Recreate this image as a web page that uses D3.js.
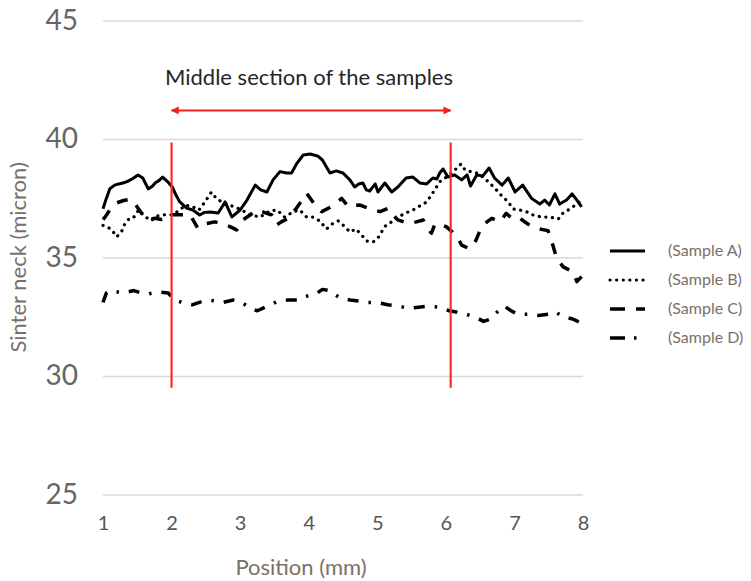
<!DOCTYPE html>
<html>
<head>
<meta charset="utf-8">
<script src="https://cdn.jsdelivr.net/npm/d3@7"></script>
<style>
  html, body { margin: 0; padding: 0; background: #fff; }
  svg { display: block; font-family: Lato, "Open Sans", sans-serif; }
</style>
</head>
<body>
<svg id="chart" width="751" height="581"></svg>
<script>
// ---------- data ----------
const xTicks = [1, 2, 3, 4, 5, 6, 7, 8];
const yTicks = [25, 30, 35, 40, 45];
const seriesNames = ["(Sample A)", "(Sample B)", "(Sample C)", "(Sample D)"];

const sampleA = [
  [1.00,37.05],[1.05,37.5],[1.10,37.9],[1.17,38.05],[1.23,38.1],[1.29,38.14],[1.35,38.2],[1.42,38.3],
  [1.51,38.48],[1.58,38.35],[1.66,37.89],[1.72,38.0],[1.76,38.14],[1.82,38.25],[1.87,38.39],[1.94,38.2],
  [2.01,37.97],[2.07,37.6],[2.12,37.34],[2.22,37.08],[2.31,37.0],[2.41,36.79],[2.48,36.9],[2.56,36.92],
  [2.68,36.87],[2.78,37.34],[2.88,36.71],[3.00,37.0],[3.10,37.42],[3.22,38.05],[3.30,37.85],[3.39,37.76],
  [3.48,38.27],[3.58,38.62],[3.68,38.56],[3.75,38.56],[3.83,38.98],[3.92,39.32],[4.02,39.36],[4.13,39.28],
  [4.20,39.11],[4.31,38.56],[4.40,38.65],[4.50,38.56],[4.60,38.27],[4.67,37.97],[4.73,38.1],[4.79,38.14],
  [4.84,37.85],[4.89,37.80],[4.97,38.10],[5.01,37.76],[5.06,37.95],[5.11,38.14],[5.21,37.76],[5.30,37.97],
  [5.42,38.35],[5.52,38.39],[5.62,38.14],[5.72,38.10],[5.81,38.35],[5.87,38.31],[5.91,38.56],[5.96,38.73],
  [6.03,38.39],[6.13,38.48],[6.23,38.27],[6.31,38.48],[6.36,38.01],[6.45,38.48],[6.54,38.44],[6.63,38.77],
  [6.71,38.35],[6.82,38.05],[6.91,38.35],[7.01,37.76],[7.12,38.05],[7.25,37.49],[7.37,37.25],[7.44,37.42],
  [7.51,37.21],[7.59,37.68],[7.66,37.25],[7.76,37.42],[7.84,37.68],[7.91,37.42],[7.98,37.13]
];
const sampleB = [
  [1.00,36.35],[1.05,36.3],[1.12,36.19],[1.20,35.87],[1.27,36.08],[1.31,36.37],[1.39,36.67],[1.45,36.7],
  [1.52,37.0],[1.60,36.75],[1.70,36.55],[1.80,36.75],[1.90,36.8],[2.00,36.8],[2.10,36.95],[2.20,37.2],
  [2.30,37.15],[2.40,37.0],[2.50,37.4],[2.58,37.75],[2.65,37.5],[2.75,37.3],[2.85,37.2],[2.95,37.1],
  [3.05,36.95],[3.15,36.8],[3.22,36.75],[3.29,36.70],[3.43,36.96],[3.54,37.0],[3.65,36.70],[3.77,36.92],
  [3.87,37.0],[3.97,36.70],[4.06,36.70],[4.16,36.54],[4.26,36.20],[4.34,36.41],[4.43,36.54],[4.53,36.29],
  [4.60,36.07],[4.69,36.20],[4.85,35.69],[4.94,35.65],[5.01,35.82],[5.08,36.16],[5.13,36.37],[5.21,36.50],
  [5.30,36.70],[5.42,36.88],[5.52,37.0],[5.62,37.17],[5.72,37.34],[5.77,37.55],[5.84,37.86],[5.91,38.19],
  [5.99,38.35],[6.10,38.60],[6.22,38.94],[6.28,38.69],[6.38,38.60],[6.45,38.56],[6.54,38.39],[6.64,38.14],
  [6.74,37.84],[6.83,37.55],[6.91,37.34],[6.98,37.04],[7.08,37.0],[7.18,36.92],[7.27,36.79],[7.40,36.70],
  [7.52,36.70],[7.64,36.62],[7.71,36.88],[7.81,37.04],[7.91,37.26],[7.98,37.42]
];
const sampleC = [
  [1.00,36.6],[1.03,36.7],[1.10,37.0],[1.20,37.3],[1.30,37.4],[1.40,37.45],[1.48,37.2],[1.56,36.87],
  [1.66,36.6],[1.76,36.65],[1.85,36.6],[1.93,36.65],[2.00,36.8],[2.10,36.8],[2.20,36.8],[2.27,36.8],
  [2.33,36.5],[2.38,36.24],[2.45,36.4],[2.55,36.45],[2.63,36.5],[2.75,36.4],[2.85,36.3],[2.95,36.16],
  [3.04,36.58],[3.15,36.8],[3.25,37.0],[3.35,36.9],[3.46,36.79],[3.53,36.37],[3.60,36.5],[3.70,36.65],
  [3.82,37.07],[3.90,37.4],[3.97,37.7],[4.04,37.42],[4.12,37.1],[4.19,36.93],[4.33,37.14],[4.40,37.3],
  [4.48,37.49],[4.58,37.14],[4.66,37.2],[4.75,37.21],[4.87,37.07],[4.95,37.0],[5.04,36.93],[5.16,37.07],
  [5.23,36.8],[5.30,36.58],[5.45,36.44],[5.50,36.45],[5.57,36.5],[5.67,36.58],[5.72,36.3],[5.79,36.02],
  [5.84,36.4],[5.92,36.4],[6.01,36.29],[6.16,35.9],[6.23,35.52],[6.33,35.38],[6.40,35.5],[6.45,35.8],
  [6.52,36.29],[6.60,36.5],[6.67,36.65],[6.79,36.5],[6.88,36.86],[6.96,36.65],[7.02,36.7],[7.08,36.65],
  [7.18,36.44],[7.25,36.3],[7.32,36.23],[7.49,36.13],[7.56,35.52],[7.61,35.03],[7.66,34.8],[7.71,34.6],
  [7.85,34.4],[7.91,33.98],[7.98,34.19]
];
const sampleD = [
  [1.00,33.1],[1.05,33.5],[1.10,33.6],[1.20,33.55],[1.30,33.5],[1.45,33.6],[1.55,33.5],[1.65,33.45],
  [1.80,33.55],[1.95,33.5],[2.05,33.2],[2.15,33.1],[2.30,33.0],[2.45,33.15],[2.55,33.2],[2.75,33.1],
  [2.90,33.2],[3.05,33.05],[3.15,32.85],[3.25,32.75],[3.40,32.95],[3.55,33.15],[3.70,33.2],[3.85,33.2],
  [3.95,33.35],[4.10,33.45],[4.20,33.65],[4.30,33.6],[4.45,33.3],[4.60,33.2],[4.75,33.15],[4.85,33.1],
  [5.00,33.1],[5.15,33.0],[5.30,32.95],[5.45,32.85],[5.60,32.9],[5.75,32.95],[5.90,32.9],[6.05,32.75],
  [6.15,32.7],[6.30,32.6],[6.45,32.45],[6.55,32.3],[6.65,32.4],[6.75,32.7],[6.85,32.95],[6.95,32.75],
  [7.05,32.6],[7.20,32.6],[7.35,32.55],[7.50,32.6],[7.60,32.7],[7.70,32.5],[7.85,32.4],[8.00,32.2]
];
const seriesData = [sampleA, sampleB, sampleC, sampleD];

// annotation (x positions of middle section, y extent of markers)
const sectionStart = 2.0;
const sectionEnd = 6.07;
const markerRange = [29.5, 39.85];
const arrowValue = 41.2;
const annotationText = "Middle section of the samples";

// ---------- layout ----------
const svg = d3.select("#chart");
const x = d3.scaleLinear().domain([1, 8]).range([103, 583]);
const y = d3.scaleLinear().domain([25, 45]).range([494.4, 20.4]);

const styles = [
  { dash: null, width: 3, cap: "butt" },
  { dash: "0.1,6.5", width: 3.2, cap: "round" },
  { dash: "11,11", width: 3.5, cap: "butt" },
  { dash: "11,10,2.5,10", width: 3.5, cap: "butt" }
];

// gridlines + y labels
const yAxis = d3.axisLeft(y).tickValues(yTicks).tickSize(-(x.range()[1] - x.range()[0])).tickPadding(25);
const gY = svg.append("g").attr("transform", `translate(${x.range()[0]},0)`).call(yAxis);
gY.select(".domain").remove();
gY.selectAll(".tick line").attr("stroke", "#d9d9d9").attr("stroke-width", 1.5);
gY.selectAll(".tick text").attr("fill", "#666").attr("font-size", 28).attr("font-family", "Lato, sans-serif");

// x labels
const xAxis = d3.axisBottom(x).tickValues(xTicks).tickFormat(d3.format("d")).tickSize(0).tickPadding(21);
const gX = svg.append("g").attr("transform", `translate(0,${y(25)})`).call(xAxis);
gX.select(".domain").remove();
gX.selectAll(".tick text").attr("fill", "#555").attr("font-size", 20).attr("font-family", "Lato, sans-serif");

// axis titles
svg.append("text").attr("x", 301).attr("y", 575).attr("text-anchor", "middle")
  .attr("fill", "#7a7068").attr("font-size", 22).text("Position (mm)");
svg.append("text").attr("transform", `translate(26,${y(35)}) rotate(-90)`).attr("text-anchor", "middle")
  .attr("fill", "#7a7068").attr("font-size", 22).text("Sinter neck (micron)");

// series
const line = d3.line().x(d => x(d[0])).y(d => y(d[1]));
seriesData.forEach((data, i) => {
  const st = styles[i];
  const p = svg.append("path").datum(data).attr("d", line)
    .attr("fill", "none").attr("stroke", "#000").attr("stroke-width", st.width)
    .attr("stroke-linejoin", "round").attr("stroke-linecap", st.cap);
  if (st.dash) p.attr("stroke-dasharray", st.dash);
});

// red vertical markers
[sectionStart, sectionEnd].forEach(v => {
  svg.append("line").attr("x1", x(v)).attr("x2", x(v))
    .attr("y1", y(markerRange[1])).attr("y2", y(markerRange[0]))
    .attr("stroke", "#ff2a2a").attr("stroke-width", 2.2);
});

// double arrow
const defs = svg.append("defs");
defs.append("marker").attr("id", "arrowEnd").attr("viewBox", "0 0 10 10").attr("refX", 9).attr("refY", 5)
  .attr("markerWidth", 4).attr("markerHeight", 4).attr("orient", "auto-start-reverse")
  .append("path").attr("d", "M0,0 L10,5 L0,10 z").attr("fill", "#f02020");
svg.append("line").attr("x1", x(sectionStart)).attr("x2", x(sectionEnd))
  .attr("y1", y(arrowValue)).attr("y2", y(arrowValue))
  .attr("stroke", "#f02020").attr("stroke-width", 2)
  .attr("marker-start", "url(#arrowEnd)").attr("marker-end", "url(#arrowEnd)");
svg.append("text").attr("x", 309).attr("y", 85)
  .attr("text-anchor", "middle").attr("fill", "#262626").attr("font-size", 22).text(annotationText);

// legend
const legendY = [251, 280, 309, 338];
seriesNames.forEach((name, i) => {
  const st = styles[i];
  const l = svg.append("line").attr("x1", 610).attr("x2", 645).attr("y1", legendY[i]).attr("y2", legendY[i])
    .attr("stroke", "#000").attr("stroke-width", st.width).attr("stroke-linecap", st.cap);
  if (st.dash) l.attr("stroke-dasharray", i === 2 ? "15,11" : (i === 3 ? "15,9,2.5,9" : st.dash));
  svg.append("text").attr("x", 668).attr("y", legendY[i] + 5).attr("fill", "#7a7068")
    .attr("font-size", 16).text(name);
});
</script>
</body>
</html>
